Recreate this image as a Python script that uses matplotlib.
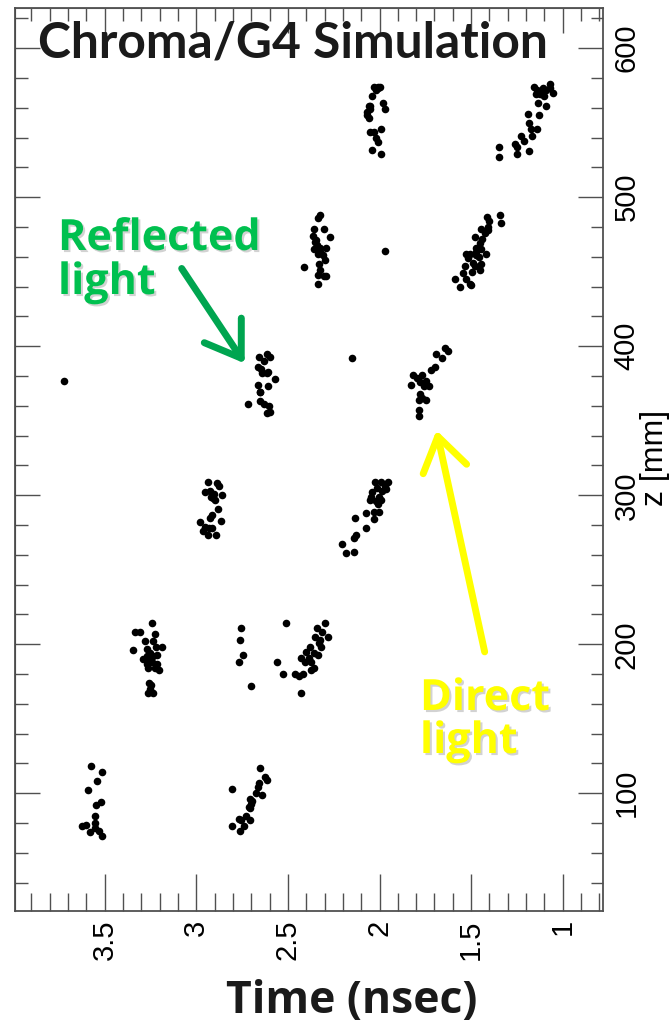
import matplotlib.pyplot as plt
import matplotlib.patheffects as pe
from matplotlib.ticker import MultipleLocator, FuncFormatter

# hit time (nsec) and z position (mm), one pair of lists per cluster
# z ~ 550 band
t_refl_550 = [2.03, 2.01, 2.00, 2.02, 2.01, 2.04, 2.05, 2.06, 1.98, 1.97, 2.07,
              2.06, 2.05, 2.03, 1.99, 2.02, 2.01, 2.04, 1.99, 2.05, 2.07]
z_refl_550 = [574, 574, 574, 572, 573, 568, 561, 561, 563, 559, 557,
              553, 544, 544, 546, 540, 537, 532, 529, 559, 555]
t_dir_550 = [1.157, 1.140, 1.108, 1.093, 1.071, 1.067, 1.053, 1.126, 1.100, 1.116,
             1.147, 1.133, 1.093, 1.189, 1.129, 1.184, 1.171, 1.140, 1.225, 1.165,
             1.213, 1.262, 1.249, 1.184, 1.249, 1.348, 1.348]
z_dir_550 = [574, 572, 573, 572, 576, 573, 570, 569, 568, 570,
             569, 563, 561, 556, 555, 550, 546, 546, 541, 541,
             538, 536, 534, 531, 529, 534, 527]

# z ~ 465 band
t_refl_465 = [2.326, 2.336, 2.359, 2.305, 2.268, 2.363, 2.348, 2.344, 2.323, 2.294,
              2.359, 2.336, 2.308, 2.299, 2.414, 2.330, 2.326, 2.336, 2.305, 2.290,
              2.336, 1.972, 2.354, 2.323]
z_refl_465 = [488, 486, 479, 479, 473, 474, 471, 468, 466, 466,
              465, 462, 461, 458, 453, 455, 451, 448, 447, 447,
              442, 464, 470, 463]
t_dir_465 = [1.413, 1.402, 1.340, 1.335, 1.408, 1.444, 1.426, 1.408, 1.480, 1.438,
             1.453, 1.471, 1.444, 1.526, 1.504, 1.475, 1.416, 1.457, 1.490, 1.535,
             1.480, 1.444, 1.493, 1.544, 1.453, 1.590, 1.526, 1.508, 1.558, 1.498,
             1.471, 1.517]
z_dir_465 = [487, 484, 488, 483, 480, 479, 476, 478, 473, 472,
             469, 466, 465, 462, 462, 463, 462, 460, 456, 454,
             454, 455, 450, 449, 451, 445, 445, 442, 440, 441,
             461, 459]

# z ~ 375 band
t_refl_375 = [2.658, 2.617, 2.599, 2.632, 2.663, 2.645, 2.609, 2.617, 2.570, 2.663,
              2.609, 2.654, 2.718, 2.654, 2.632, 2.603, 2.599, 2.617, 2.639, 2.654]
z_refl_375 = [393, 395, 393, 390, 386, 385, 383, 382, 378, 374,
              373, 369, 361, 363, 361, 360, 356, 355, 382, 369]
t_dir_375 = [1.644, 1.626, 1.657, 1.693, 1.699, 1.717, 1.817, 1.766, 1.744, 1.777,
             1.826, 1.730, 1.757, 1.777, 1.784, 1.744, 1.784, 1.784, 1.766, 1.797]
z_dir_375 = [399, 397, 392, 395, 386, 384, 381, 381, 377, 376,
             374, 373, 373, 368, 364, 364, 357, 353, 365, 379]
t_stray = [3.724, 2.150]
z_stray = [377, 392]

# z ~ 290 band
t_refl_290 = [2.936, 2.887, 2.876, 2.954, 2.927, 2.905, 2.918, 2.858, 2.899, 2.882,
              2.912, 2.923, 2.868, 2.981, 2.954, 2.931, 2.912, 2.963, 2.936, 2.890,
              2.909]
z_refl_290 = [309, 308, 306, 302, 303, 301, 299, 300, 297, 291,
              287, 285, 283, 282, 279, 278, 278, 276, 273, 273,
              298]
t_dir_290 = [2.026, 1.990, 1.954, 1.972, 2.014, 2.039, 1.984, 1.962, 2.044, 2.003,
             2.053, 1.990, 2.008, 2.072, 2.032, 2.003, 2.032, 2.135, 2.075, 2.130,
             2.141, 2.203, 2.185, 2.141, 2.021]
z_dir_290 = [309, 309, 309, 306, 305, 302, 303, 304, 299, 299,
             297, 297, 294, 288, 289, 289, 284, 285, 278, 273,
             271, 267, 261, 262, 296]

# z ~ 190 band
t_refl2_190 = [3.240, 3.336, 3.305, 3.227, 3.283, 3.236, 3.346, 3.269, 3.222, 3.185,
               3.215, 3.272, 3.291, 3.254, 3.240, 3.269, 3.215, 3.227, 3.204, 3.258,
               3.245, 3.254, 3.264, 3.236, 3.254, 3.236, 3.264]
z_refl2_190 = [214, 208, 208, 207, 202, 202, 196, 197, 198, 198,
               193, 192, 190, 189, 188, 187, 187, 184, 183, 174,
               173, 170, 167, 167, 194, 192, 184]
t_refl_190 = [2.754, 2.759, 2.745, 2.767, 2.699]
z_refl_190 = [211, 203, 193, 188, 172]
t_dir_190 = [2.508, 2.559, 2.527, 2.299, 2.344, 2.312, 2.281, 2.354, 2.326, 2.377,
             2.317, 2.399, 2.359, 2.336, 2.426, 2.385, 2.408, 2.372, 2.359, 2.372,
             2.463, 2.439, 2.418, 2.426, 2.330]
z_dir_190 = [214, 188, 180, 214, 211, 208, 205, 205, 203, 198,
             198, 195, 194, 193, 191, 191, 188, 188, 184, 183,
             180, 179, 180, 167, 201]

# z ~ 95 band
t_refl_95 = [3.573, 3.513, 3.542, 3.594, 3.523, 3.549, 3.555, 3.622, 3.604, 3.555,
             3.578, 3.531, 3.513, 3.555]
z_refl_95 = [118, 114, 108, 102, 94, 92, 85, 78, 79, 80, 74, 75, 71, 77]
t_dir_95 = [2.650, 2.627, 2.614, 2.658, 2.663, 2.803, 2.672, 2.639, 2.705, 2.699,
            2.712, 2.705, 2.727, 2.767, 2.705, 2.754, 2.803, 2.741, 2.763, 2.694]
z_dir_95 = [117, 111, 109, 107, 104, 103, 100, 99, 96, 93,
            91, 90, 85, 83, 82, 82, 78, 78, 75, 95]

clusters = [
    (t_refl_550, z_refl_550), (t_dir_550, z_dir_550),
    (t_refl_465, z_refl_465), (t_dir_465, z_dir_465),
    (t_refl_375, z_refl_375), (t_dir_375, z_dir_375), (t_stray, z_stray),
    (t_refl_290, z_refl_290), (t_dir_290, z_dir_290),
    (t_refl2_190, z_refl2_190), (t_refl_190, z_refl_190), (t_dir_190, z_dir_190),
    (t_refl_95, z_refl_95), (t_dir_95, z_dir_95),
]

W, H = 672, 1025


def px(x, y):
    # pixel position (from top-left) -> figure fraction
    return x / W, 1 - y / H


fig = plt.figure(figsize=(W / 100, H / 100), dpi=100)
ax = fig.add_axes([15 / W, 1 - 911 / H, 588 / W, 903 / H])

for tt, zz in clusters:
    ax.scatter(tt, zz, s=30, c='black', linewidths=0, zorder=3)

ax.set_xlim(3.99, 0.78)
ax.set_ylim(21, 627)

spine_col = '#505050'
for sp in ax.spines.values():
    sp.set_color(spine_col)
    sp.set_linewidth(1.3)

ax.xaxis.set_major_locator(MultipleLocator(0.5))
ax.xaxis.set_minor_locator(MultipleLocator(0.1))
ax.xaxis.set_major_formatter(FuncFormatter(lambda v, p: '%g' % v))
ax.yaxis.set_major_locator(MultipleLocator(100))
ax.yaxis.set_minor_locator(MultipleLocator(20))
ax.yaxis.tick_right()

ax.tick_params(axis='x', which='major', direction='in', length=27, width=1,
               color=spine_col, labelsize=21, labelrotation=90, pad=6)
ax.tick_params(axis='x', which='minor', direction='in', length=13, width=1,
               color=spine_col)
ax.tick_params(axis='y', which='major', direction='in', length=18, width=1,
               color=spine_col, labelsize=21, labelrotation=90, pad=7)
ax.tick_params(axis='y', which='minor', direction='in', length=9, width=1,
               color=spine_col)
for lab in ax.get_yticklabels():
    lab.set_va('center')
for lab in ax.get_xticklabels() + ax.get_yticklabels():
    lab.set_family('Liberation Sans')

# ticks on the other two sides, no labels
top = ax.secondary_xaxis('top')
top.xaxis.set_major_locator(MultipleLocator(0.5))
top.xaxis.set_minor_locator(MultipleLocator(0.1))
top.tick_params(which='major', direction='in', length=18, width=1,
                color=spine_col, labeltop=False)
top.tick_params(which='minor', direction='in', length=9, width=1, color=spine_col)
top.spines['top'].set_color('#7a7a7a')

left = ax.secondary_yaxis('left')
left.yaxis.set_major_locator(MultipleLocator(100))
left.yaxis.set_minor_locator(MultipleLocator(20))
left.tick_params(which='major', direction='in', length=18, width=1,
                 color=spine_col, labelleft=False)
left.tick_params(which='minor', direction='in', length=9, width=1, color=spine_col)
left.spines['left'].set_color('#222222')

# axis titles
fig.text(*px(352, 1013), 'Time (nsec)', fontsize=32, fontweight='bold',
         family='Open Sans', ha='center', va='baseline', color='#1a1a1a')
fig.text(*px(655, 458), 'z [mm]', fontsize=23, family='Liberation Sans',
         rotation=90, ha='center', va='center')

fig.text(*px(38, 58), 'Chroma/G4 Simulation', fontsize=35.8, fontweight='bold',
         family='Lato', va='baseline', color='#1a1a1a')

shadow = [pe.withSimplePatchShadow(offset=(1.5, -1.5), shadow_rgbFace='#808080',
                                   alpha=0.35)]
green_txt = '#00C04F'
green_arr = '#00A550'
yellow = '#FFFF00'
note_font = dict(fontsize=31, fontweight='bold', family='Open Sans', va='baseline',
                 path_effects=shadow)

fig.text(*px(58, 250), 'Reflected', color=green_txt, **note_font)
fig.text(*px(58, 294), 'light', color=green_txt, **note_font)
fig.text(*px(420, 710), 'Direct', color=yellow, **note_font)
fig.text(*px(420, 753), 'light', color=yellow, **note_font)

arrow_style = '->,head_length=1.2,head_width=0.8'
ax.annotate('', xy=(2.736, 388.5), xytext=(3.080, 452.2),
            arrowprops=dict(arrowstyle=arrow_style, color=green_arr, lw=5,
                            mutation_scale=20, shrinkA=0, shrinkB=0,
                            capstyle='round', joinstyle='round'))
ax.annotate('', xy=(1.689, 343.6), xytext=(1.426, 194.9),
            arrowprops=dict(arrowstyle=arrow_style, color=yellow, lw=5,
                            mutation_scale=20, shrinkA=0, shrinkB=0,
                            capstyle='round', joinstyle='round'))

fig.savefig('out.png', dpi=100)
